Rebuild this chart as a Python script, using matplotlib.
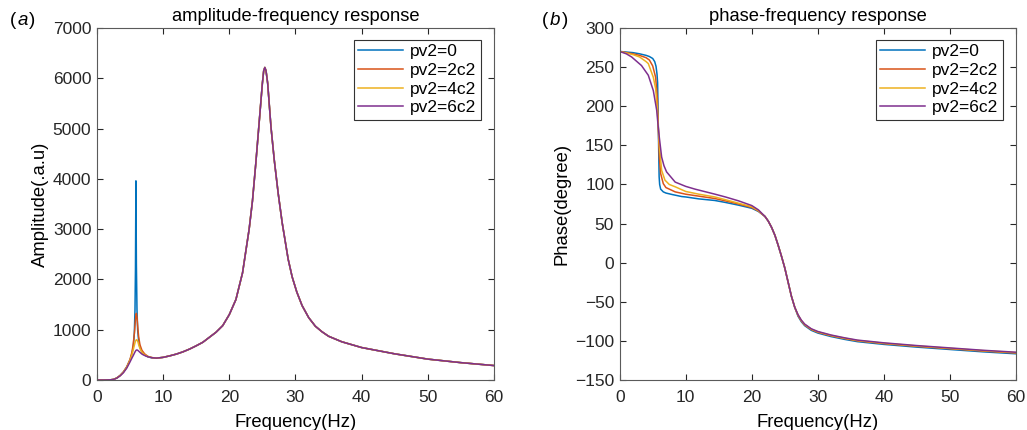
import numpy as np
import matplotlib
matplotlib.use('Agg')
import matplotlib.pyplot as plt

plt.rcParams['font.family'] = ['Liberation Sans', 'DejaVu Sans']

labels = ['pv2=0', 'pv2=2c2', 'pv2=4c2', 'pv2=6c2']
colors = ['#0072BD', '#D95319', '#EDB120', '#7E2F8E']

# amplitude, low band (series differ here)
f_amp_lo = [
    [0, 1, 2, 2.5, 3, 3.5, 4, 4.5, 5, 5.3, 5.5, 5.65, 5.75, 5.82, 5.89, 5.96, 6.05, 6.15, 6.3, 6.5, 6.8, 7.2, 7.7, 8.3],
    [0, 1, 2, 2.5, 3, 3.5, 4, 4.5, 5, 5.3, 5.5, 5.7, 5.8, 5.9, 5.96, 6.05, 6.15, 6.3, 6.5, 6.8, 7.2, 7.7, 8.3],
    [0, 1, 2, 2.5, 3, 3.5, 4, 4.5, 5, 5.3, 5.5, 5.7, 5.8, 5.9, 6.0, 6.1, 6.2, 6.35, 6.55, 6.8, 7.2, 7.7, 8.3],
    [0, 1, 2, 2.5, 3, 3.5, 4, 4.5, 5, 5.3, 5.5, 5.7, 5.85, 5.95, 6.05, 6.15, 6.3, 6.5, 6.75, 7.0, 7.4, 7.9, 8.4],
]
amp_lo = [
    [0, 0, 3, 12, 40, 90, 160, 260, 400, 530, 680, 930, 1400, 2200, 3960, 2300, 1400, 1000, 780, 650, 560, 500, 460, 440],
    [0, 0, 3, 12, 40, 90, 160, 260, 410, 560, 730, 990, 1180, 1300, 1325, 1250, 1080, 860, 700, 590, 520, 470, 445],
    [0, 0, 3, 12, 40, 88, 155, 250, 390, 510, 610, 715, 765, 792, 800, 790, 755, 680, 610, 550, 500, 465, 445],
    [0, 0, 3, 11, 37, 82, 145, 235, 360, 440, 490, 545, 580, 595, 597, 592, 575, 550, 520, 500, 475, 455, 442],
]

# amplitude, shared band
f_amp_hi = [9, 10, 11, 12, 13, 14, 15, 16, 17, 18, 19, 20, 21, 22, 23, 23.5, 24, 24.5, 25, 25.2, 25.37, 25.55,
            25.8, 26.3, 26.8, 27.4, 28, 28.9, 29.5, 30.2, 31, 32, 33, 34, 35, 37, 40, 45, 50, 55, 60]
amp_hi = [435, 450, 480, 515, 560, 615, 680, 750, 850, 950, 1080, 1300, 1600, 2130, 3000, 3560, 4300, 5100, 5900, 6150, 6215, 6150,
          5900, 5030, 4370, 3700, 3120, 2400, 2050, 1750, 1480, 1240, 1070, 960, 870, 760, 645, 520, 415, 345, 287]

# phase, low band
f_ph_lo = [
    [0, 2, 3, 4, 4.5, 5, 5.3, 5.5, 5.65, 5.74, 5.85, 5.97, 6.05, 6.2, 6.6, 7, 8, 9.4, 10, 12, 14.4, 16, 18, 20, 21],
    [0, 2, 3, 4, 4.5, 5, 5.44, 5.7, 5.85, 6.0, 6.2, 6.6, 7, 8.4, 10, 12, 14.4, 16, 18, 20, 21],
    [0, 2, 3, 4, 4.33, 5.09, 5.44, 5.7, 5.85, 6.0, 6.35, 6.85, 7.5, 8.4, 10, 12, 14.4, 16, 18, 20, 21],
    [0, 1, 1.8, 3.3, 4.33, 5.09, 5.6, 5.85, 6.0, 6.35, 6.7, 7.1, 8.4, 10, 11.4, 14.4, 16, 18, 20, 21],
]
ph_lo = [
    [270, 268.5, 267, 265, 263.5, 261, 257, 251, 241, 230, 172, 110, 100, 94, 90.5, 89, 87, 84.5, 84, 81.5, 79.5, 77, 73.5, 69.5, 65.5],
    [270, 267, 265, 262, 259, 251.5, 237, 210, 172, 135, 114, 101, 96, 90.5, 87.5, 85, 82, 79, 75, 70.5, 66],
    [270, 266, 263, 257, 254.5, 237, 222.6, 196, 172, 150, 118, 105.5, 100, 97, 91, 87.5, 84, 80.5, 76, 71.5, 66.5],
    [270, 267, 263, 252, 239.6, 220, 195, 172, 160, 135, 124, 116, 103, 97.5, 94, 87.6, 84, 79, 73, 67.5],
]

# phase, shared band
f_ph_hi = [22, 22.5, 23, 23.5, 24, 24.5, 25, 25.5, 26, 26.5, 27, 27.5, 28, 29, 30, 32, 34, 36, 40, 45, 50, 55, 60]
ph_hi = [59, 53, 45, 35, 22, 8, -7, -25, -43, -57, -67, -74, -79, -85, -88.5, -93, -96.5, -99.5, -103, -106.5, -109.5, -112.5, -115]
ph_hi_shift = [-1.5, -0.5, 0, 0.5]  # blue sits a little lower on the tail

fig = plt.figure(figsize=(10.27, 4.30), dpi=100)
ax1 = fig.add_axes([0.0944, 0.1163, 0.3866, 0.8186])
ax2 = fig.add_axes([0.6034, 0.1163, 0.3859, 0.8186])

for i in range(4):
    ax1.plot(f_amp_lo[i] + f_amp_hi, amp_lo[i] + amp_hi, color=colors[i], lw=1.1, label=labels[i])
    ph = np.array(ph_hi) + np.where(np.array(f_ph_hi) > 26.5, ph_hi_shift[i], 0)
    ax2.plot(f_ph_lo[i] + f_ph_hi, list(ph_lo[i]) + list(ph), color=colors[i], lw=1.1, label=labels[i])

ax1.set_xlim(0, 60)
ax1.set_ylim(0, 7000)
ax1.set_yticks(range(0, 7001, 1000))
ax1.set_title('amplitude-frequency response', fontsize=13.2, pad=5)
ax1.set_ylabel('Amplitude(.a.u)', fontsize=13.3, labelpad=3)

ax2.set_xlim(0, 60)
ax2.set_ylim(-150, 300)
ax2.set_yticks(range(-150, 301, 50))
ax2.set_title('phase-frequency response', fontsize=13.2, pad=5)
ax2.set_ylabel('Phase(degree)', fontsize=13.3, labelpad=3)

for ax in (ax1, ax2):
    ax.set_xticks(range(0, 61, 10))
    ax.set_xlabel('Frequency(Hz)', fontsize=13.3, labelpad=6)
    ax.tick_params(direction='in', top=True, right=True, labelsize=12.5, colors='#262626', length=4)
    ax.tick_params(axis='x', pad=7.5)
    ax.tick_params(axis='y', pad=4)
    for s in ax.spines.values():
        s.set_color('#5a5a5a')
        s.set_linewidth(0.8)
    leg = ax.legend(loc='upper right', bbox_to_anchor=(0.967, 0.966), borderaxespad=0,
                    fancybox=False, framealpha=1, fontsize=12.5, handlelength=2.6,
                    edgecolor='#333333', labelspacing=0.2, borderpad=0.25, handletextpad=0.4)
    leg.get_frame().set_linewidth(0.8)

fig.text(0.010, 0.943, '(', fontsize=13.5)
fig.text(0.0175, 0.943, 'a', fontsize=13.5, style='italic')
fig.text(0.0285, 0.943, ')', fontsize=13.5)
fig.text(0.528, 0.943, '(', fontsize=13.5)
fig.text(0.5355, 0.943, 'b', fontsize=13.5, style='italic')
fig.text(0.547, 0.943, ')', fontsize=13.5)

fig.savefig('out.png', dpi=100)
